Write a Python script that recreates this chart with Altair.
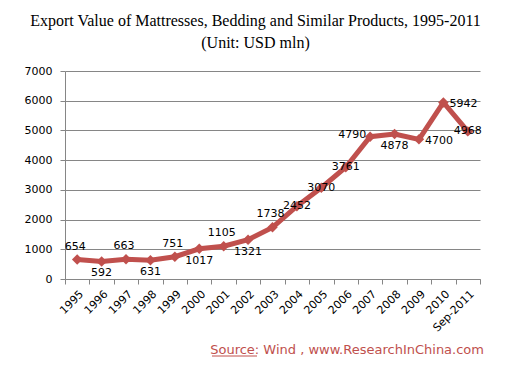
import altair as alt
import pandas as pd

years = ["1995", "1996", "1997", "1998", "1999", "2000", "2001", "2002", "2003",
         "2004", "2005", "2006", "2007", "2008", "2009", "2010", "Sep-2011"]
values = [654, 592, 663, 631, 751, 1017, 1105, 1321, 1738, 2452, 3070, 3761,
          4790, 4878, 4700, 5942, 4968]
placement = ["above", "below", "above", "below", "above", "below", "above", "below",
             "above", "center", "center", "center", "left", "below", "right", "right",
             "center"]
y_ticks = [0, 1000, 2000, 3000, 4000, 5000, 6000, 7000]
title_lines = ["Export Value of Mattresses, Bedding and Similar Products, 1995-2011",
               "(Unit: USD mln)"]
source_text = ["Source: Wind , www.ResearchInChina.com"]

df = pd.DataFrame({"year": years, "value": values, "pos": placement})

RED = "#C0504D"
GRID = "#868686"
FONT = "DejaVu Sans"

x = alt.X("year:N", sort=years, bandPosition=0.5,
          scale=alt.Scale(type="band", paddingInner=0, paddingOuter=0),
          axis=alt.Axis(title=None, labelAngle=-45, tickBand="extent",
                        domainColor=GRID, tickColor=GRID, tickSize=5,
                        labelFont=FONT, labelFontSize=11, labelColor="black",
                        labelPadding=4, grid=False))
y = alt.Y("value:Q", scale=alt.Scale(domain=[0, 7000]),
          axis=alt.Axis(title=None, values=y_ticks, format="d", grid=True,
                        gridColor=GRID, domainColor=GRID, tickColor=GRID,
                        tickSize=5, labelFont=FONT, labelFontSize=11,
                        labelColor="black", labelPadding=8))

base = alt.Chart(df)
line = base.mark_line(color=RED, strokeWidth=5).encode(x=x, y=y)
pts = base.mark_point(shape="diamond", filled=True, size=110, color=RED,
                      opacity=1).encode(x=x, y=y)

def lab(pos, **kw):
    return base.transform_filter(alt.datum.pos == pos).mark_text(
        font=FONT, fontSize=11, color="black", **kw).encode(
        x=x, y=y, text="value:Q")

labels = [
    lab("above", dy=-13, dx=-2),
    lab("below", dy=12),
    lab("center", dy=0),
    lab("left", align="right", dx=-4, dy=-2),
    lab("right", align="left", dx=6, dy=2),
]

src = alt.Chart(pd.DataFrame({"t": source_text})).mark_text(
    align="right", baseline="middle", color=RED, font=FONT, fontSize=13
).encode(x=alt.value(419), y=alt.value(279), text="t:N")

underline = alt.Chart(pd.DataFrame({"t": source_text})).mark_rule(
    color=RED, strokeWidth=1
).encode(x=alt.value(147), x2=alt.value(192), y=alt.value(285))

chart = alt.layer(line, pts, *labels, src, underline).properties(
    width=415, height=208,
    autosize="none",
    padding={"left": 57, "top": 63, "right": 18, "bottom": 82},
    title=alt.TitleParams(text=title_lines, font="Liberation Serif", fontSize=16,
                          fontWeight="normal", color="black", anchor="middle",
                          dx=-17, offset=14, lineHeight=22),
).configure_view(stroke=None)

chart.save("out.html", embed_options={"renderer": "svg", "actions": False})
